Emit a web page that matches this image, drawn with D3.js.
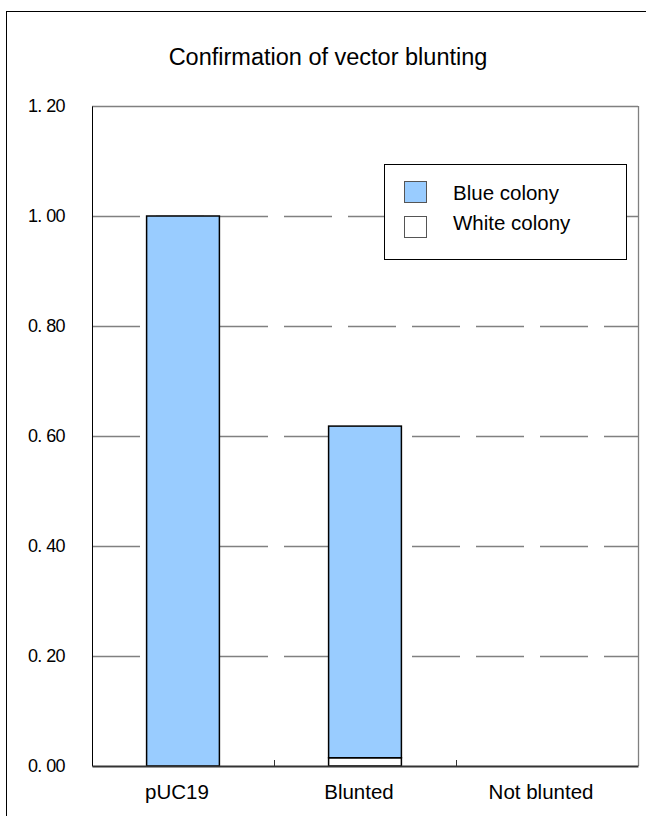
<!DOCTYPE html>
<html>
<head>
<meta charset="utf-8">
<script src="https://cdn.jsdelivr.net/npm/d3@7"></script>
<style>
  html, body { margin: 0; padding: 0; background: #fff; }
  svg { display: block; }
</style>
</head>
<body>
<script>
const title = "Confirmation of vector blunting";
const categories = ["pUC19", "Blunted", "Not blunted"];
const seriesNames = ["White colony", "Blue colony"];
const whiteColony = [0.0, 0.015, 0.0];
const blueColony = [1.0, 0.603, 0.0];
const yTicks = [0, 0.2, 0.4, 0.6, 0.8, 1.0, 1.2];
const legendNames = ["Blue colony", "White colony"];
const colors = { "Blue colony": "#99CCFF", "White colony": "#FFFFFF" };

const W = 646, H = 816;
const svg = d3.select("body").append("svg").attr("width", W).attr("height", H);

// outer frame
svg.append("rect").attr("x", 6.5).attr("y", 11.5).attr("width", W + 10).attr("height", H + 10)
  .attr("fill", "none").attr("stroke", "#000").attr("stroke-width", 1);

const x = d3.scaleBand().domain(categories).range([92, 638]).paddingInner(0).paddingOuter(0);
const y = d3.scaleLinear().domain([0, 1.2]).range([766, 106]);

// title
svg.append("text").attr("x", 328).attr("y", 65).attr("text-anchor", "middle")
  .attr("font-family", "Liberation Sans, Arial, sans-serif").attr("font-size", 23.5)
  .attr("fill", "#000").text(title);

// gridlines (dashed) for interior ticks
const grid = svg.append("g");
yTicks.filter(t => t > 0 && t < 1.2).forEach(t => {
  grid.append("line").attr("x1", 92).attr("x2", 638)
    .attr("y1", Math.round(y(t)) + 0.5).attr("y2", Math.round(y(t)) + 0.5)
    .attr("stroke", "#808080").attr("stroke-width", 1.3).attr("stroke-dasharray", "48,16");
});
// plot frame top & right
svg.append("line").attr("x1", 92).attr("x2", 638).attr("y1", y(1.2) + 0.5).attr("y2", y(1.2) + 0.5)
  .attr("stroke", "#808080").attr("stroke-width", 1.3);
svg.append("line").attr("x1", 638.5).attr("x2", 638.5).attr("y1", y(1.2)).attr("y2", y(0))
  .attr("stroke", "#808080").attr("stroke-width", 1.3);

// y axis labels
const yAxis = d3.axisLeft(y).tickValues(yTicks).tickSize(0).tickPadding(27)
  .tickFormat(d => { const s = d3.format(".2f")(d); return s.replace(".", ". "); });
const ya = svg.append("g").attr("transform", "translate(92,0)").call(yAxis);
ya.select(".domain").attr("stroke", "#000").attr("stroke-width", 1);
ya.selectAll("text").attr("font-family", "Liberation Sans, Arial, sans-serif").attr("font-size", 18)
  .attr("letter-spacing", -0.6).attr("fill", "#000");

// stacked bars
const stackData = categories.map((c, i) => ({ cat: c, "White colony": whiteColony[i], "Blue colony": blueColony[i] }));
const stack = d3.stack().keys(seriesNames)(stackData);
const bw = x.bandwidth() * 0.4;
stack.forEach(layer => {
  svg.append("g").selectAll("rect").data(layer.filter(d => d[1] - d[0] > 0)).join("rect")
    .attr("x", d => x(d.data.cat) + (x.bandwidth() - bw) / 2)
    .attr("y", d => y(d[1]))
    .attr("width", bw)
    .attr("height", d => y(d[0]) - y(d[1]))
    .attr("fill", colors[layer.key])
    .attr("stroke", "#000").attr("stroke-width", 1.5);
});

// x axis
const xAxis = d3.axisBottom(x).tickSize(0).tickPadding(18);
const xa = svg.append("g").attr("transform", "translate(0,766)").call(xAxis);
xa.select(".domain").attr("stroke", "#333").attr("stroke-width", 2);
xa.selectAll("text").attr("font-family", "Liberation Sans, Arial, sans-serif").attr("font-size", 20.5)
  .attr("fill", "#000").attr("dx", -6);
// boundary tick marks
categories.slice(1).forEach(c => {
  svg.append("line").attr("x1", x(c) + 0.5).attr("x2", x(c) + 0.5).attr("y1", 766).attr("y2", 760)
    .attr("stroke", "#333").attr("stroke-width", 1);
});

// legend
const lg = svg.append("g");
lg.append("rect").attr("x", 384.5).attr("y", 164.5).attr("width", 242).attr("height", 95)
  .attr("fill", "#fff").attr("stroke", "#000").attr("stroke-width", 1);
legendNames.forEach((n, i) => {
  lg.append("rect").attr("x", 404.5).attr("y", 181.5 + i * 35).attr("width", 22).attr("height", 21)
    .attr("fill", colors[n]).attr("stroke", "#555").attr("stroke-width", 1);
  lg.append("text").attr("x", 453).attr("y", 200 + i * 30)
    .attr("font-family", "Liberation Sans, Arial, sans-serif").attr("font-size", 20.5)
    .attr("fill", "#000").text(n);
});
</script>
</body>
</html>
